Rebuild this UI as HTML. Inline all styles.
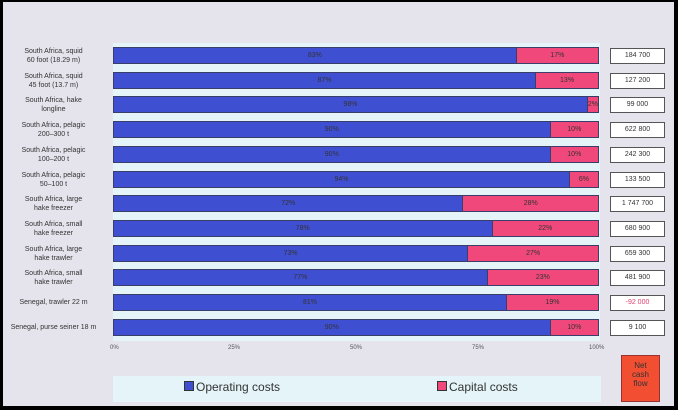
<!DOCTYPE html>
<html><head><style>
body{margin:0;width:678px;height:410px;overflow:hidden;background:#000;font-family:"Liberation Sans",sans-serif}
#f{position:absolute;left:3px;top:2px;width:671px;height:404px;background:#e5e3ec}
.pl{position:absolute;left:113px;top:43px;width:487px;height:298px;background:#e4f4f8}
.lab{position:absolute;left:0;width:107px;text-align:center;font-size:7px;line-height:9px;color:#333}
.bar{position:absolute;left:113px;width:486px;height:17px;border:1px solid #3a3f6a;box-sizing:border-box;display:flex;font-size:7px;color:#333}
.b{background:#3f4fd2;text-align:center;line-height:15px;box-sizing:border-box}
.p{background:#f0487b;border-left:1px solid #3a3f6a;text-align:center;line-height:15px;flex:1}
.v{position:absolute;left:610px;width:55px;height:16px;border:1px solid #555;background:#fff;box-sizing:border-box;font-size:7px;text-align:center;line-height:14px;color:#333}
.t{position:absolute;top:345px;font-size:6px;color:#555}
</style></head><body><div id="f"></div>
<div class="pl"></div>
<div id="c"></div>
<div class="t" style="left:110px">0%</div>
<div class="t" style="left:228px">25%</div>
<div class="t" style="left:350px">50%</div>
<div class="t" style="left:472px">75%</div>
<div class="t" style="left:589px">100%</div>
<div style="position:absolute;left:113px;top:376px;width:488px;height:26px;background:#e4f4f8"></div>
<div style="position:absolute;left:184px;top:380px;font-size:12px;color:#333"><span style="display:inline-block;width:8px;height:8px;background:#3f4fd2;border:1px solid #333;margin-right:2px"></span>Operating costs</div>
<div style="position:absolute;left:437px;top:380px;font-size:12px;color:#333"><span style="display:inline-block;width:8px;height:8px;background:#f0487b;border:1px solid #333;margin-right:2px"></span>Capital costs</div>
<div style="position:absolute;left:621px;top:355px;width:39px;height:47px;background:#f24e32;border:1px solid #933;box-sizing:border-box;font-size:8px;line-height:9px;text-align:center;padding-top:5px;color:#333">Net<br>cash<br>flow</div>
<script>
var d=[["South Africa, squid<br>60 foot (18.29 m)",83,"184 700"],["South Africa, squid<br>45 foot (13.7 m)",87,"127 200"],["South Africa, hake<br>longline",98,"99 000"],["South Africa, pelagic<br>200–300 t",90,"622 800"],["South Africa, pelagic<br>100–200 t",90,"242 300"],["South Africa, pelagic<br>50–100 t",94,"133 500"],["South Africa, large<br>hake freezer",72,"1 747 700"],["South Africa, small<br>hake freezer",78,"680 900"],["South Africa, large<br>hake trawler",73,"659 300"],["South Africa, small<br>hake trawler",77,"481 900"],["Senegal, trawler 22 m",81,"-92 000"],["Senegal, purse seiner 18 m",90,"9 100"]];
var h="";d.forEach(function(r,i){var y=47+i*24.7;var two=r[0].indexOf("<br>")>0;
h+='<div class="lab" style="top:'+(y+(two?0:4))+'px">'+r[0]+'</div>';
h+='<div class="bar" style="top:'+y+'px"><div class="b" style="width:'+r[1]+'%">'+r[1]+'%</div><div class="p">'+(100-r[1])+'%</div></div>';
h+='<div class="v" style="top:'+(y+1)+'px;'+(r[2][0]=="-"?"color:#e04070":"")+'">'+r[2]+'</div>';});
document.getElementById("c").innerHTML=h;
</script></body></html>
